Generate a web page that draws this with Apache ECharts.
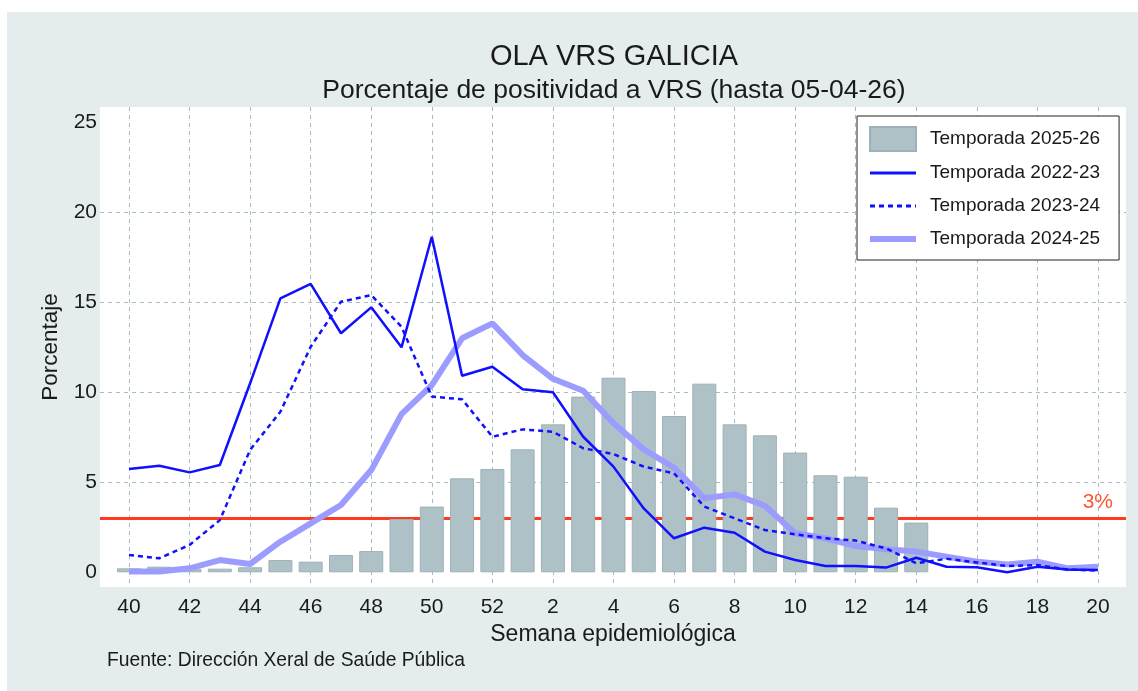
<!DOCTYPE html>
<html>
<head>
<meta charset="utf-8">
<script src="https://cdn.jsdelivr.net/npm/echarts@6/dist/echarts.min.js"></script>
<style>
html,body{margin:0;padding:0;background:#fff;}
#panel{position:absolute;left:7px;top:12px;right:0;bottom:0;background:#e5ecee;}
#main{position:absolute;left:0;top:0;width:1138px;height:691px;}
</style>
</head>
<body>
<div id="panel"></div>
<div id="main"></div>
<script>
// ---- data ----
const weeks = ['40','41','42','43','44','45','46','47','48','49','50','51','52',
  '1','2','3','4','5','6','7','8','9','10','11','12','13','14','15','16','17','18','19','20'];
const xTickLabels = ['40','42','44','46','48','50','52','2','4','6','8','10','12','14','16','18','20'];
const yTickLabels = [0, 5, 10, 15, 20, 25];
const yGridValues = [5, 10, 15, 20];
const threshold = 3;

const season2526 = [0.22,0.31,0.17,0.2,0.28,0.68,0.59,0.96,1.18,2.96,3.65,5.22,5.74,
  6.83,8.22,9.76,10.81,10.07,8.68,10.48,8.22,7.61,6.65,5.39,5.31,3.59,2.76,null,null,null,null,null,null];
const season2223 = [5.74,5.92,5.55,5.96,10.5,15.22,16.02,13.28,14.72,12.5,18.64,10.92,11.42,
  10.17,10.0,7.53,5.87,3.55,1.89,2.48,2.2,1.15,0.68,0.35,0.35,0.26,0.81,0.31,0.28,0.0,0.31,0.16,0.13];
const season2324 = [0.96,0.78,1.52,2.9,6.8,8.92,12.53,15.03,15.4,13.64,9.76,9.61,7.53,
  7.94,7.81,6.89,6.57,5.87,5.5,3.65,3.0,2.35,2.11,1.89,1.76,1.33,0.5,0.75,0.55,0.35,0.4,0.15,0.1];
const season2425 = [0.05,0.05,0.22,0.68,0.46,1.7,2.72,3.74,5.68,8.79,10.4,13.0,13.83,
  12.07,10.75,10.09,8.28,6.83,5.81,4.11,4.33,3.7,2.17,1.89,1.46,1.28,1.15,0.87,0.59,0.44,0.59,0.22,0.31];

const names = ['Temporada 2025-26','Temporada 2022-23','Temporada 2023-24','Temporada 2024-25'];

// ---- chart ----
const FONT = '"Liberation Sans", Arial, sans-serif';
const TXT = '#1a1a1a';
const pair = arr => arr.map((v, i) => [i, v == null ? '-' : v]);
const tickPos = xTickLabels.map(l => weeks.indexOf(l));
const gridLine = { show: true, lineStyle: { color: '#a9bec4', width: 1, type: [4, 4] } };
const noSymbol = { color: 'rgba(0,0,0,0)', borderWidth: 0, opacity: 0 };

const chart = echarts.init(document.getElementById('main'), null, { renderer: 'canvas' });
chart.setOption({
  animation: false,
  backgroundColor: 'transparent',
  textStyle: { fontFamily: FONT },
  title: [
    { text: 'OLA VRS GALICIA', left: 614, top: 42, textAlign: 'center', padding: 0,
      textStyle: { fontSize: 29, fontWeight: 'normal', color: TXT, fontFamily: FONT } },
    { text: 'Porcentaje de positividad a VRS (hasta 05-04-26)', left: 614, top: 77, textAlign: 'center', padding: 0,
      textStyle: { fontSize: 26.5, fontWeight: 'normal', color: TXT, fontFamily: FONT } },
    { text: 'Fuente: Dirección Xeral de Saúde Pública', left: 107, top: 651, padding: 0,
      textStyle: { fontSize: 19.3, fontWeight: 'normal', color: TXT, fontFamily: FONT } }
  ],
  grid: { show: true, backgroundColor: '#ffffff', borderWidth: 0,
    left: 100, right: 12, top: 107, bottom: 104, containLabel: false, outerBoundsMode: 'none' },
  legend: {
    orient: 'vertical', left: 857, top: 116, padding: [10, 19, 9, 10],
    itemWidth: 46, itemHeight: 24, itemGap: 9, selectedMode: false,
    backgroundColor: '#ffffff', borderColor: '#222', borderWidth: 1, borderRadius: 0,
    textStyle: { fontSize: 19, color: TXT, fontFamily: FONT, padding: [0, 0, 0, 9], lineHeight: 24, height: 24 },
    data: [
      { name: names[0], icon: 'rect' },
      { name: names[1], lineStyle: { width: 3 }, itemStyle: noSymbol },
      { name: names[2], lineStyle: { width: 3 }, itemStyle: noSymbol },
      { name: names[3], lineStyle: { width: 6 }, itemStyle: noSymbol }
    ]
  },
  xAxis: {
    type: 'value', min: -0.9577, max: 32.926,
    axisLine: { show: false },
    axisTick: { show: false, customValues: tickPos },
    splitLine: gridLine,
    axisLabel: { customValues: tickPos, formatter: v => weeks[Math.round(v)],
      fontSize: 21, color: TXT, margin: 10, fontFamily: FONT },
    name: 'Semana epidemiológica', nameLocation: 'middle', nameGap: 28,
    nameTextStyle: { fontSize: 23, color: TXT, fontFamily: FONT }
  },
  yAxis: {
    type: 'value', min: -0.817, max: 25.85,
    axisLine: { show: false },
    axisTick: { show: false, customValues: yGridValues },
    splitLine: gridLine,
    axisLabel: { customValues: yTickLabels, fontSize: 21, color: TXT, margin: 3, fontFamily: FONT },
    name: 'Porcentaje', nameLocation: 'middle', nameGap: 38, nameRotate: 90,
    nameTextStyle: { fontSize: 22.5, color: TXT, fontFamily: FONT }
  },
  series: [
    { name: names[0], type: 'bar', data: pair(season2526), barWidth: 24,
      itemStyle: { color: '#aec1c7', borderColor: '#9db2b8', borderWidth: 1 },
      emphasis: { disabled: true }, z: 2,
      markLine: {
        silent: true, z: 1, symbol: ['none', 'none'], animation: false,
        lineStyle: { color: '#ff3b1f', width: 3, type: 'solid' },
        label: { show: true, position: 'insideEndTop', formatter: '3%', color: '#ff5533',
          fontSize: 21, fontFamily: FONT, distance: [13, 6] },
        emphasis: { disabled: true },
        data: [{ yAxis: threshold }]
      }
    },
    { name: names[3], type: 'line', data: pair(season2425), symbol: 'none', z: 3,
      lineStyle: { color: '#9c9cff', width: 6 }, itemStyle: { color: '#9c9cff' },
      emphasis: { disabled: true } },
    { name: names[1], type: 'line', data: pair(season2223), symbol: 'none', z: 3,
      lineStyle: { color: '#1010ff', width: 2.5 }, itemStyle: { color: '#1010ff' },
      emphasis: { disabled: true } },
    { name: names[2], type: 'line', data: pair(season2324), symbol: 'none', z: 3,
      lineStyle: { color: '#1010ff', width: 2.5, type: [5, 4] }, itemStyle: { color: '#1010ff' },
      emphasis: { disabled: true } }
  ]
});
</script>
</body>
</html>
